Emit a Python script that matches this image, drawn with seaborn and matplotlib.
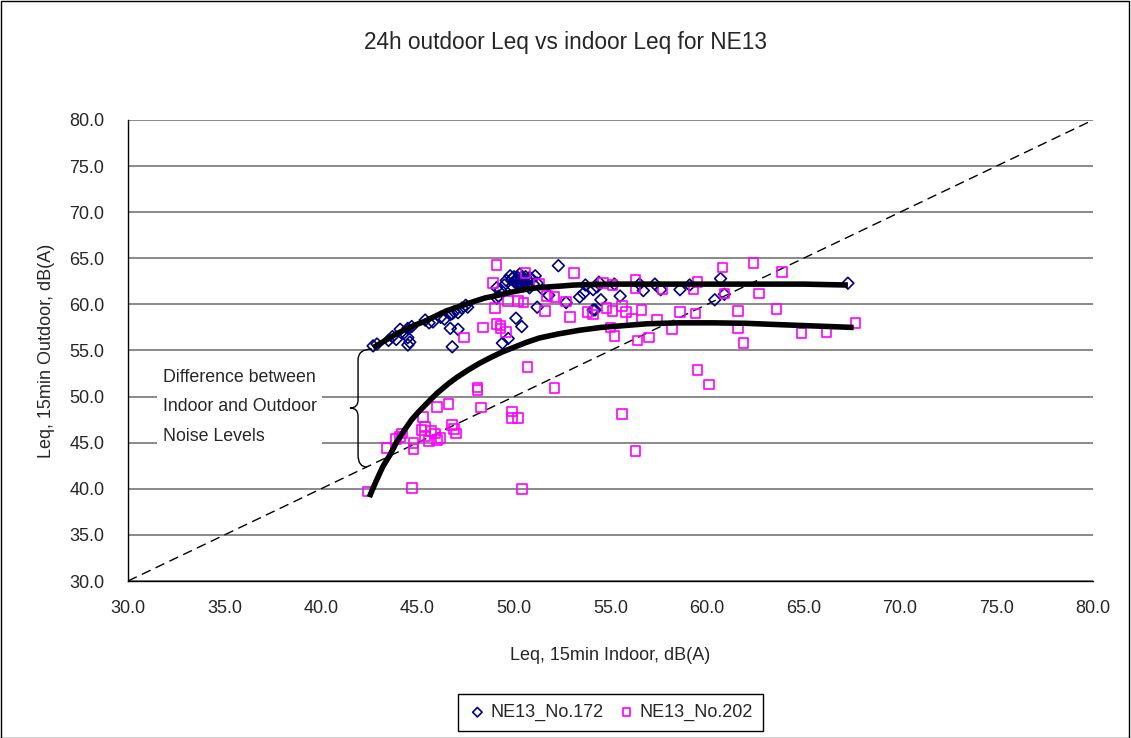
import numpy as np
import pandas as pd
import matplotlib
matplotlib.use("Agg")
import matplotlib.pyplot as plt
import seaborn as sns
from matplotlib.path import Path
from matplotlib.patches import PathPatch, Rectangle
from matplotlib.ticker import FormatStrFormatter, MultipleLocator

# NE13_No.172 (diamonds)
x172 = [42.7, 42.9, 43.5, 43.7, 43.9, 44.1, 44.3, 44.5, 44.5, 44.5, 44.6, 44.7,
        45.4, 45.6, 45.8, 46.2, 46.4, 46.7, 46.8, 46.9, 47.1, 47.3, 47.5, 47.6,
        46.7, 47.1, 46.8,
        49.1, 49.2, 49.1, 49.3, 49.5, 49.6, 49.8, 49.9, 50.0, 50.1, 50.2, 50.2,
        50.3, 50.4, 50.5, 50.6, 50.7, 50.8, 50.9, 51.0, 51.1, 51.2, 51.5,
        50.0, 50.3, 50.6, 50.8, 50.2, 50.5, 49.9, 50.7,
        49.4, 49.7, 50.1, 50.4, 51.2, 51.8, 52.3, 52.7, 53.4, 53.6, 53.7, 54.1,
        54.2, 54.3, 54.4, 54.5, 54.1, 55.2, 55.5, 56.5, 56.7, 57.3, 57.6, 58.6,
        59.1, 60.7, 60.4, 60.9, 67.3]
y172 = [55.5, 55.7, 56.1, 56.5, 56.2, 57.3, 56.9, 57.4, 56.4, 55.6, 55.9, 57.6,
        58.3, 58.0, 58.1, 58.6, 58.4, 58.9, 59.0, 59.2, 59.1, 59.6, 59.9, 59.7,
        57.4, 57.3, 55.4,
        60.7, 60.9, 61.8, 61.6, 62.1, 62.6, 63.1, 62.0, 62.5, 62.6, 62.4, 62.9,
        62.1, 62.9, 62.6, 62.3, 62.6, 61.8, 62.8, 62.2, 63.1, 62.3, 61.6,
        63.0, 63.3, 63.0, 62.9, 62.2, 62.0, 62.8, 62.2,
        55.8, 56.3, 58.5, 57.6, 59.7, 61.0, 64.2, 60.2, 60.8, 61.2, 62.1, 61.6,
        59.4, 61.9, 62.4, 60.5, 59.4, 62.2, 60.9, 62.2, 61.5, 62.2, 61.6, 61.6,
        62.1, 62.8, 60.5, 61.1, 62.3]

# NE13_No.202 (squares)
x202 = [42.4, 43.4, 43.9, 44.1, 44.2, 44.7, 44.8, 44.8, 45.2, 45.3, 45.4, 45.4,
        45.6, 45.7, 45.9, 46.0, 46.2, 46.0, 46.6, 46.8, 46.9, 47.0, 47.4, 48.1,
        48.1, 48.3, 48.4, 48.9, 49.0, 49.1, 49.1, 49.3, 49.3, 49.6, 49.7, 49.9,
        49.9, 50.2, 50.2, 50.4, 50.5, 50.6, 50.7, 51.3, 51.6, 51.7, 52.1, 52.1,
        52.7, 52.9, 53.1, 53.8, 54.1, 54.6, 54.8, 55.0, 55.1, 55.1, 55.2, 55.6,
        55.6, 55.8, 56.1, 56.3, 56.3, 56.3, 56.4, 56.6, 57.0, 57.4, 57.7, 58.2,
        58.6, 59.3, 59.4, 59.5, 59.5, 60.1, 60.8, 60.9, 61.6, 61.6, 61.9, 62.4,
        62.7, 63.6, 63.9, 64.9, 66.2, 67.7]
y202 = [39.7, 44.4, 45.4, 45.6, 46.0, 40.1, 44.3, 45.0, 46.4, 47.8, 46.7, 45.7,
        45.2, 46.3, 46.0, 45.3, 45.5, 48.9, 49.2, 46.9, 46.5, 46.0, 56.4, 51.0,
        50.7, 48.8, 57.5, 62.3, 59.6, 64.3, 57.9, 57.7, 57.4, 57.0, 60.4, 48.4,
        47.7, 47.7, 60.4, 40.0, 60.2, 63.4, 53.2, 62.2, 59.3, 60.9, 60.8, 50.9,
        60.3, 58.6, 63.4, 59.2, 58.9, 62.3, 59.6, 57.5, 62.1, 59.3, 56.6, 59.8,
        48.1, 59.2, 58.4, 62.7, 61.8, 44.1, 56.1, 59.4, 56.4, 58.3, 61.6, 57.3,
        59.2, 61.6, 59.0, 62.4, 52.9, 51.3, 64.0, 61.2, 59.3, 57.4, 55.8, 64.5,
        61.2, 59.5, 63.5, 56.9, 57.0, 58.0]

# trend curves
upper_x = [42.7, 43.1, 43.5, 43.9, 44.3, 44.8, 45.3, 45.9, 46.5, 47.2, 47.9, 48.5,
           49.2, 49.8, 50.5, 51.2, 51.8, 52.5, 53.1, 54.0, 55.0, 56.2, 57.5, 60.0,
           62.5, 65.0, 67.3]
upper_y = [55.3, 55.8, 56.3, 56.8, 57.2, 57.7, 58.1, 58.7, 59.3, 59.8, 60.3, 60.7,
           61.0, 61.3, 61.6, 61.8, 61.9, 62.0, 62.1, 62.15, 62.2, 62.2, 62.2, 62.2,
           62.2, 62.2, 62.1]
lower_x = [42.5, 42.85, 43.2, 43.58, 43.9, 44.3, 44.7, 45.08, 45.5, 46.0, 46.6,
           47.05, 47.6, 48.2, 48.8, 49.4, 50.0, 50.6, 51.3, 52.3, 53.4, 54.5,
           55.7, 56.9, 58.5, 60.3, 62.0, 63.8, 65.7, 67.6]
lower_y = [39.1, 40.8, 42.4, 43.7, 45.0, 46.3, 47.5, 48.4, 49.3, 50.35, 51.4,
           52.1, 52.85, 53.6, 54.25, 54.85, 55.35, 55.85, 56.35, 56.8, 57.2, 57.5,
           57.7, 57.9, 58.0, 58.0, 57.95, 57.8, 57.65, 57.5]
diag = [30.0, 80.0]

df = pd.concat([
    pd.DataFrame({"indoor": x172, "outdoor": y172, "site": "NE13_No.172"}),
    pd.DataFrame({"indoor": x202, "outdoor": y202, "site": "NE13_No.202"}),
])

sns.set_style("white")
plt.rcParams["font.family"] = ["Liberation Sans", "DejaVu Sans"]

fig = plt.figure(figsize=(11.31, 7.38), dpi=100)
ax = fig.add_axes([128 / 1131, 1 - 581 / 738, (1093 - 128) / 1131, (581 - 120) / 738])

ax.plot(diag, diag, color="black", lw=1.0, ls=(0, (7, 4)), zorder=2)

styles = {"NE13_No.172": ("D", "#000080", 36), "NE13_No.202": ("s", "#FF00FF", 48)}
for site, (mk, col, sz) in styles.items():
    sub = df[df["site"] == site]
    sns.scatterplot(data=sub, x="indoor", y="outdoor", ax=ax, marker=mk, s=sz,
                    color=col, facecolor="none", edgecolor=col, linewidth=1.2,
                    label=site, zorder=3)

ax.plot(upper_x, upper_y, color="black", lw=4.0, solid_capstyle="butt",
        solid_joinstyle="round", zorder=4)
ax.plot(lower_x, lower_y, color="black", lw=4.0, solid_capstyle="butt",
        solid_joinstyle="round", zorder=4)

# brace between the two curves
verts = [(42.64, 55.16), (41.92, 55.16), (41.92, 53.97), (41.92, 49.63),
         (41.92, 48.76), (41.50, 48.76), (41.92, 48.76), (41.92, 47.90),
         (41.92, 43.67), (41.92, 42.36), (42.38, 42.36)]
codes = [Path.MOVETO, Path.CURVE3, Path.CURVE3, Path.LINETO,
         Path.CURVE3, Path.CURVE3, Path.CURVE3, Path.CURVE3,
         Path.LINETO, Path.CURVE3, Path.CURVE3]
ax.add_patch(PathPatch(Path(verts, codes), fc="none", ec="black", lw=1.0, zorder=5))

ax.text(31.8, 48.9, "Difference between\nIndoor and Outdoor\nNoise Levels",
        fontsize=12.8, va="center", ha="left", linespacing=1.95, zorder=5,
        bbox=dict(fc="white", ec="none", pad=4))

ax.set_xlim(30, 80)
ax.set_ylim(30, 80)
ax.xaxis.set_major_locator(MultipleLocator(5))
ax.yaxis.set_major_locator(MultipleLocator(5))
ax.xaxis.set_major_formatter(FormatStrFormatter("%.1f"))
ax.yaxis.set_major_formatter(FormatStrFormatter("%.1f"))
ax.grid(axis="y", color="#808080", lw=1.3)
ax.grid(axis="x", visible=False)
ax.set_axisbelow(True)
for side in ["top", "right"]:
    ax.spines[side].set_visible(False)
for side in ["left", "bottom"]:
    ax.spines[side].set_color("black")
    ax.spines[side].set_linewidth(1.0)
ax.tick_params(axis="both", direction="out", length=4, width=1, color="black",
               labelsize=13)
ax.tick_params(axis="y", pad=13)
ax.tick_params(axis="x", pad=10)

ax.set_xlabel("Leq, 15min Indoor, dB(A)", fontsize=13, labelpad=21)
ax.set_ylabel("Leq, 15min Outdoor, dB(A)", fontsize=13, labelpad=10)
fig.suptitle("24h outdoor Leq vs indoor Leq for NE13", fontsize=16.3, y=0.958)

ax.legend(loc="upper center", bbox_to_anchor=(610.5 / 1131, 1 - 694 / 738),
          bbox_transform=fig.transFigure, borderaxespad=0, ncol=2, frameon=True,
          fancybox=False, edgecolor="black", framealpha=1, fontsize=13,
          markerscale=0.8, handletextpad=0.2, columnspacing=0.8, borderpad=0.55,
          handlelength=1.0)
ax.legend_.get_frame().set_linewidth(1.0)

fig.patches.append(Rectangle((0.001, 0.0), 0.997, 0.998, transform=fig.transFigure,
                             fill=False, ec="black", lw=1.0))

fig.savefig("out.png", dpi=100)
